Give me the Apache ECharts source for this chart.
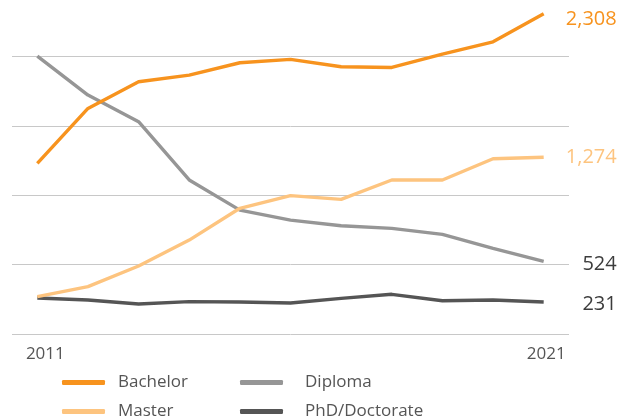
<!DOCTYPE html>
<html>
<head>
<meta charset="utf-8">
<script src="https://cdn.jsdelivr.net/npm/echarts@6/dist/echarts.min.js"></script>
<style>
html,body{margin:0;padding:0;background:#fff;}
#chart{width:622px;height:420px;}
</style>
</head>
<body>
<div id="chart"></div>
<script>
const years = ['2011','2012','2013','2014','2015','2016','2017','2018','2019','2020','2021'];
const bachelor = [1230, 1626, 1818, 1866, 1955, 1979, 1926, 1921, 2017, 2106, 2308];
const diploma  = [2003, 1722, 1530, 1110, 893, 821, 780, 761, 718, 617, 524];
const master   = [269, 341, 490, 677, 906, 997, 970, 1110, 1110, 1263, 1274];
const phd      = [259, 245, 216, 233, 231, 223, 257, 286, 240, 245, 231];

const FONT = '"Open Sans", "Noto Sans", sans-serif';
const C_BACH = '#F7931E', C_MAST = '#FDC47F', C_DIPL = '#969696', C_PHD = '#555555';

function fmt(p){ return echarts.format.addCommas(p.value); }
function endLabel(color, dy){
  return {show:true, formatter:fmt, distance:73, align:'right', color:color,
          fontFamily:FONT, fontSize:20, offset:[0,dy]};
}
function legend(name, left, top, gap){
  return {data:[name], left:left, top:top, padding:0, orient:'horizontal',
    icon:'roundRect', itemWidth:43, itemHeight:5,
    textStyle:{fontFamily:FONT, fontSize:17, color:'#555', padding:[0,0,10,gap]}};
}
const chart = echarts.init(document.getElementById('chart'), null, {renderer:'canvas'});
chart.setOption({
  animation:false,
  grid:{left:12, width:557, top:1, bottom:86, containLabel:false},
  legend:[
    legend('Bachelor', 62, 374, 8),
    legend('Master', 62, 403, 8),
    legend('Diploma', 240, 374, 17),
    legend('PhD/Doctorate', 240, 403, 17)
  ],
  xAxis:{type:'category', data:years, boundaryGap:true,
    axisLine:{show:false}, axisTick:{show:false}, splitLine:{show:false},
    axisLabel:{margin:12, fontFamily:FONT, fontSize:17, color:'#555',
      interval:function(i){return i===0||i===years.length-1;},
      formatter:function(v,i){ return i===0 ? '{a|'+v+'}' : '{b|'+v+'}'; },
      rich:{a:{fontFamily:FONT,fontSize:17,color:'#555',padding:[0,0,0,16]},
            b:{fontFamily:FONT,fontSize:17,color:'#555',padding:[0,0,0,5]}}}},
  yAxis:{type:'value', min:0, max:2400, interval:500,
    axisLabel:{show:false}, axisLine:{show:false}, axisTick:{show:false},
    splitLine:{show:true, showMaxLine:false, lineStyle:{color:'#c8c8c8', width:1}}},
  series:[
    {name:'Bachelor', type:'line', data:bachelor, symbol:'none', color:C_BACH,
      lineStyle:{width:3.4, color:C_BACH}, endLabel:endLabel(C_BACH, 6), z:5},
    {name:'Master', type:'line', data:master, symbol:'none', color:C_MAST,
      lineStyle:{width:3.4, color:C_MAST}, endLabel:endLabel(C_MAST, 0), z:4},
    {name:'Diploma', type:'line', data:diploma, symbol:'none', color:C_DIPL,
      lineStyle:{width:3.4, color:C_DIPL}, endLabel:endLabel('#3c3c3c', 3), z:3},
    {name:'PhD/Doctorate', type:'line', data:phd, symbol:'none', color:C_PHD,
      lineStyle:{width:3.4, color:C_PHD}, endLabel:endLabel('#3c3c3c', 2), z:2}
  ]
});
</script>
</body>
</html>
